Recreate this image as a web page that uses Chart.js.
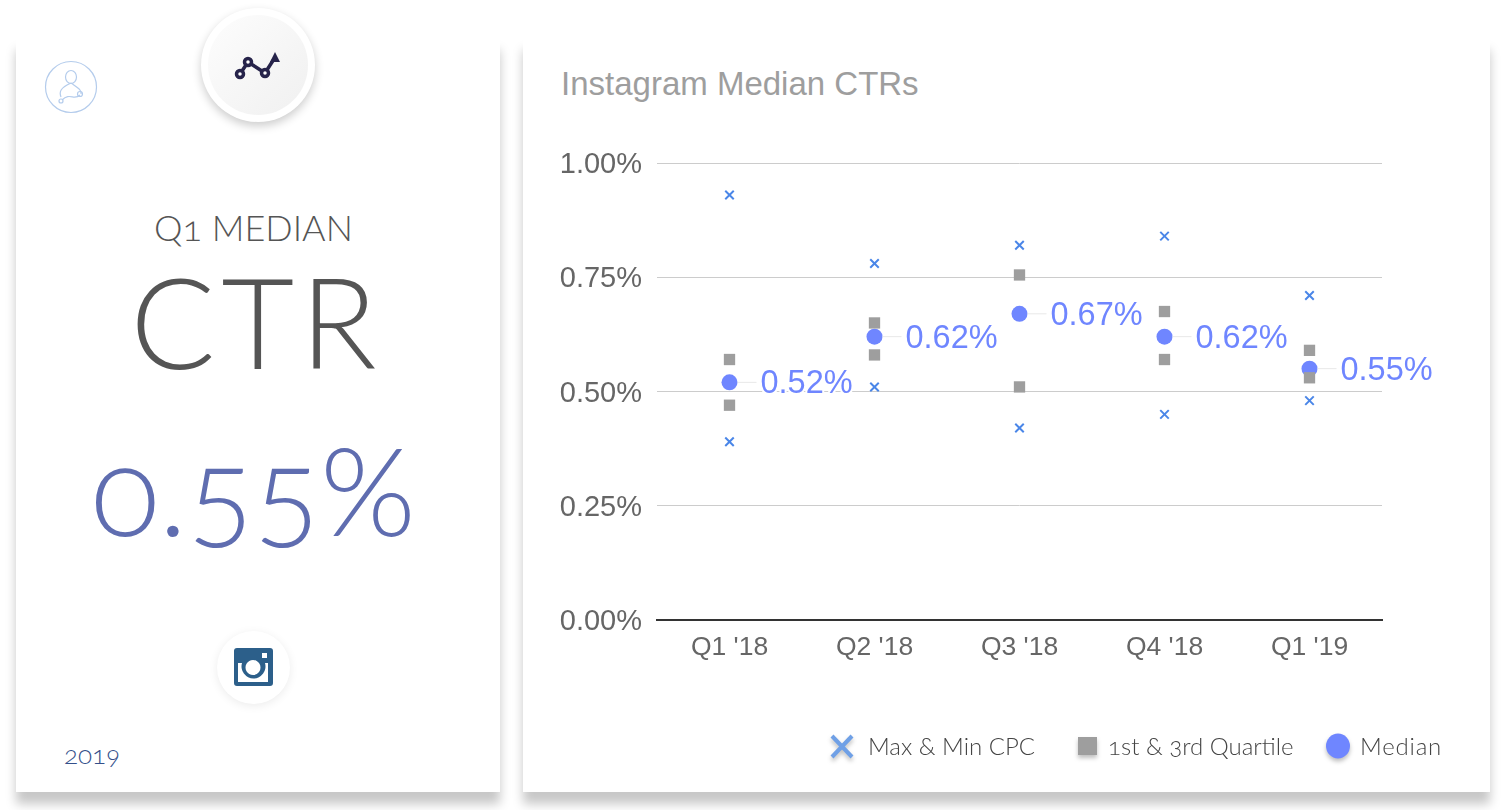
<!DOCTYPE html>
<html>
<head>
<meta charset="utf-8">
<script src="https://cdn.jsdelivr.net/npm/chart.js@4"></script>
<style>
  html, body { margin: 0; padding: 0; background: #fff; }
  body { width: 1506px; height: 810px; position: relative; overflow: hidden; font-family: Lato, sans-serif; font-variant-numeric: oldstyle-nums; }
  .card { position: absolute; top: 38px; height: 754px; background: #fff; box-shadow: 0 12px 10px rgba(0,0,0,0.22); }
  #left { left: 16px; width: 484px; }
  #right { left: 523px; width: 967px; }
  .txt { position: absolute; white-space: nowrap; line-height: 1; text-align: center; }
  #badge { position: absolute; left: 201px; top: 8px; width: 114px; height: 114px; border-radius: 50%; background: #fff; box-shadow: 0 4px 10px rgba(0,0,0,0.2); }
  #badge div { position: absolute; left: 7px; top: 7px; width: 100px; height: 100px; border-radius: 50%; background: linear-gradient(135deg, #fdfdfd, #f0f0f0); }
  #insta { position: absolute; left: 217px; top: 631px; width: 73px; height: 73px; border-radius: 50%; background: #fff; box-shadow: 0 2px 10px rgba(0,0,0,0.08); }
  #chartWrap { position: absolute; left: 523px; top: 38px; width: 967px; height: 754px; }
  .legTxt { position: absolute; top: 734px; font: 300 24px Lato, sans-serif; font-variant-numeric: oldstyle-nums; color: #444; white-space: nowrap; line-height: 24px; }
  svg { position: absolute; overflow: visible; }
  .legIcon { filter: drop-shadow(0 3px 2px rgba(0,0,0,0.25)); }
</style>
</head>
<body>
<div class="card" id="left"></div>
<div class="card" id="right"></div>

<div id="badge"><div></div></div>
<svg style="left:0;top:0" width="500" height="130">
  <g fill="none" stroke="#26234a" stroke-width="3.500">
    <polyline points="240,74 248,62 265,73 274,59"/>
    <circle cx="240" cy="74" r="3.500" fill="#fff"/>
    <circle cx="248" cy="62" r="3.500" fill="#fff"/>
    <circle cx="265" cy="73" r="3.500" fill="#fff"/>
  </g>
  <polygon points="275,52 280,62 270,62" fill="#26234a"/>
  <g fill="none" stroke="#b4ccec" stroke-width="1.200">
    <circle cx="71" cy="87" r="25.500"/>
    <ellipse cx="71" cy="77" rx="5.500" ry="6.500"/>
    <path d="M71 83 C60 88 59 92 61 97 M71 83 C78 88 82 90 81 94 M62 100 C70 92 74 101 80 95"/>
    <circle cx="61" cy="101" r="2"/>
    <circle cx="80" cy="94" r="2.500"/>
  </g>
</svg>

<div class="txt" style="left:16px;width:475px;top:209px;font-size:36px;font-weight:300;color:#555">Q1 MEDIAN</div>
<div class="txt" style="left:16px;width:481px;top:258px;font-size:126px;letter-spacing:6px;font-weight:300;color:#555">CTR</div>
<div class="txt" style="left:16px;width:476px;top:427px;font-size:123px;font-weight:300;color:#5f6db0">0.55%</div>
<div class="txt" style="left:64px;top:741px;font-size:26px;font-weight:300;color:#34508a">2019</div>

<div id="insta"></div>
<svg style="left:0;top:0" width="500" height="810">
  <path fill="#2c5f8a" fill-rule="evenodd" d="M237 648 h33 a3 3 0 0 1 3 3 v32 a3 3 0 0 1 -3 3 h-33 a3 3 0 0 1 -3 -3 v-32 a3 3 0 0 1 3 -3 z M262 653 v5 h5 v-5 z M238 663 v19 h30 v-19 h-3 a12 12 0 1 1 -23 0 z M253 660 a7.500 7.500 0 1 0 0.010 0 z"/>
</svg>

<div class="txt" style="left:561px;top:67px;font-family:'Liberation Sans',sans-serif;font-size:33px;color:#9e9e9e">Instagram Median CTRs</div>

<div id="chartWrap"><canvas id="ctrChart"></canvas></div>

<svg style="left:0;top:0" width="1506" height="810">
  <g class="legIcon" stroke="#6fa0e6" stroke-width="4"><line x1="832" y1="736" x2="852" y2="757"/><line x1="852" y1="736" x2="832" y2="757"/></g>
  <rect class="legIcon" x="1078" y="737" width="19" height="18" fill="#9e9e9e"/>
  <ellipse class="legIcon" cx="1338" cy="746" rx="12" ry="12.500" fill="#6f86ff"/>
</svg>
<div class="legTxt" style="left:868px">Max &amp; Min CPC</div>
<div class="legTxt" style="left:1108px">1st &amp; 3rd Quartile</div>
<div class="legTxt" style="left:1360px;letter-spacing:0.8px">Median</div>

<script>
// values
const quarters = ["Q1 '18", "Q2 '18", "Q3 '18", "Q4 '18", "Q1 '19"];
const maxCtr = [0.93, 0.78, 0.82, 0.84, 0.71];
const minCtr = [0.39, 0.51, 0.42, 0.45, 0.48];
const thirdQuartile = [0.57, 0.65, 0.755, 0.675, 0.59];
const firstQuartile = [0.47, 0.58, 0.51, 0.57, 0.53];
const medianCtr = [0.52, 0.62, 0.67, 0.62, 0.55];
const yTicks = [0, 0.25, 0.5, 0.75, 1];

const MEDIAN_BLUE = "#6f86ff";
const CROSS_BLUE = "#4a86e8";
const SQUARE_GREY = "#9e9e9e";

// labels next to the median dots, with the faint leader line
const medianLabels = {
  id: "medianLabels",
  afterDatasetsDraw(chart) {
    const ctx = chart.ctx;
    const meta = chart.getDatasetMeta(4);
    ctx.save();
    ctx.font = "32.5px 'Liberation Sans', sans-serif";
    ctx.textBaseline = "middle";
    meta.data.forEach((pt, i) => {
      ctx.strokeStyle = "#e8e8e8";
      ctx.lineWidth = 1;
      ctx.beginPath();
      ctx.moveTo(pt.x + 8, pt.y);
      ctx.lineTo(pt.x + 27, pt.y);
      ctx.stroke();
      const text = medianCtr[i].toFixed(2) + "%";
      ctx.strokeStyle = "#fff";
      ctx.lineWidth = 4;
      ctx.strokeText(text, pt.x + 31, pt.y + 2);
      ctx.fillStyle = MEDIAN_BLUE;
      ctx.fillText(text, pt.x + 31, pt.y + 2);
    });
    ctx.restore();
  },
};

function pointSeries(label, data, style, color, radius, borderWidth) {
  return {
    label: label,
    data: data,
    showLine: false,
    pointStyle: style,
    pointRadius: radius,
    pointBackgroundColor: color,
    pointBorderColor: color,
    pointBorderWidth: borderWidth,
  };
}

new Chart(document.getElementById("ctrChart"), {
  type: "line",
  data: {
    labels: quarters,
    datasets: [
      pointSeries("Max", maxCtr, "crossRot", CROSS_BLUE, 6, 2),
      pointSeries("Min", minCtr, "crossRot", CROSS_BLUE, 6, 2),
      pointSeries("3rd Quartile", thirdQuartile, "rect", SQUARE_GREY, 8, 0),
      pointSeries("1st Quartile", firstQuartile, "rect", SQUARE_GREY, 8, 0),
      pointSeries("Median", medianCtr, "circle", MEDIAN_BLUE, 8, 0),
    ],
  },
  options: {
    responsive: true,
    maintainAspectRatio: false,
    animation: false,
    layout: { padding: { top: 125, right: 108, bottom: 0, left: 0 } },
    scales: {
      x: {
        offset: true,
        afterFit(scale) { scale.height = 172; },
        grid: { display: false },
        border: { color: "#333", width: 2 },
        ticks: {
          color: "#666",
          padding: 4,
          maxRotation: 0,
          font: { family: "'Liberation Sans', sans-serif", size: 26.500 },
        },
      },
      y: {
        min: 0,
        max: 1,
        afterFit(scale) { scale.width = 134; },
        afterBuildTicks(scale) { scale.ticks = yTicks.map((v) => ({ value: v })); },
        grid: { color: "#ccc", lineWidth: 1, drawTicks: false },
        border: { display: false },
        ticks: {
          color: "#666",
          padding: 15,
          // empty first line pushes the text down 2px to sit on the gridline
          callback: (v) => ["", v.toFixed(2) + "%"],
          font: { family: "'Liberation Sans', sans-serif", size: 29, lineHeight: "4px" },
        },
      },
    },
    plugins: {
      legend: { display: false },
      tooltip: { enabled: false },
    },
  },
  plugins: [medianLabels],
});
</script>
</body>
</html>
